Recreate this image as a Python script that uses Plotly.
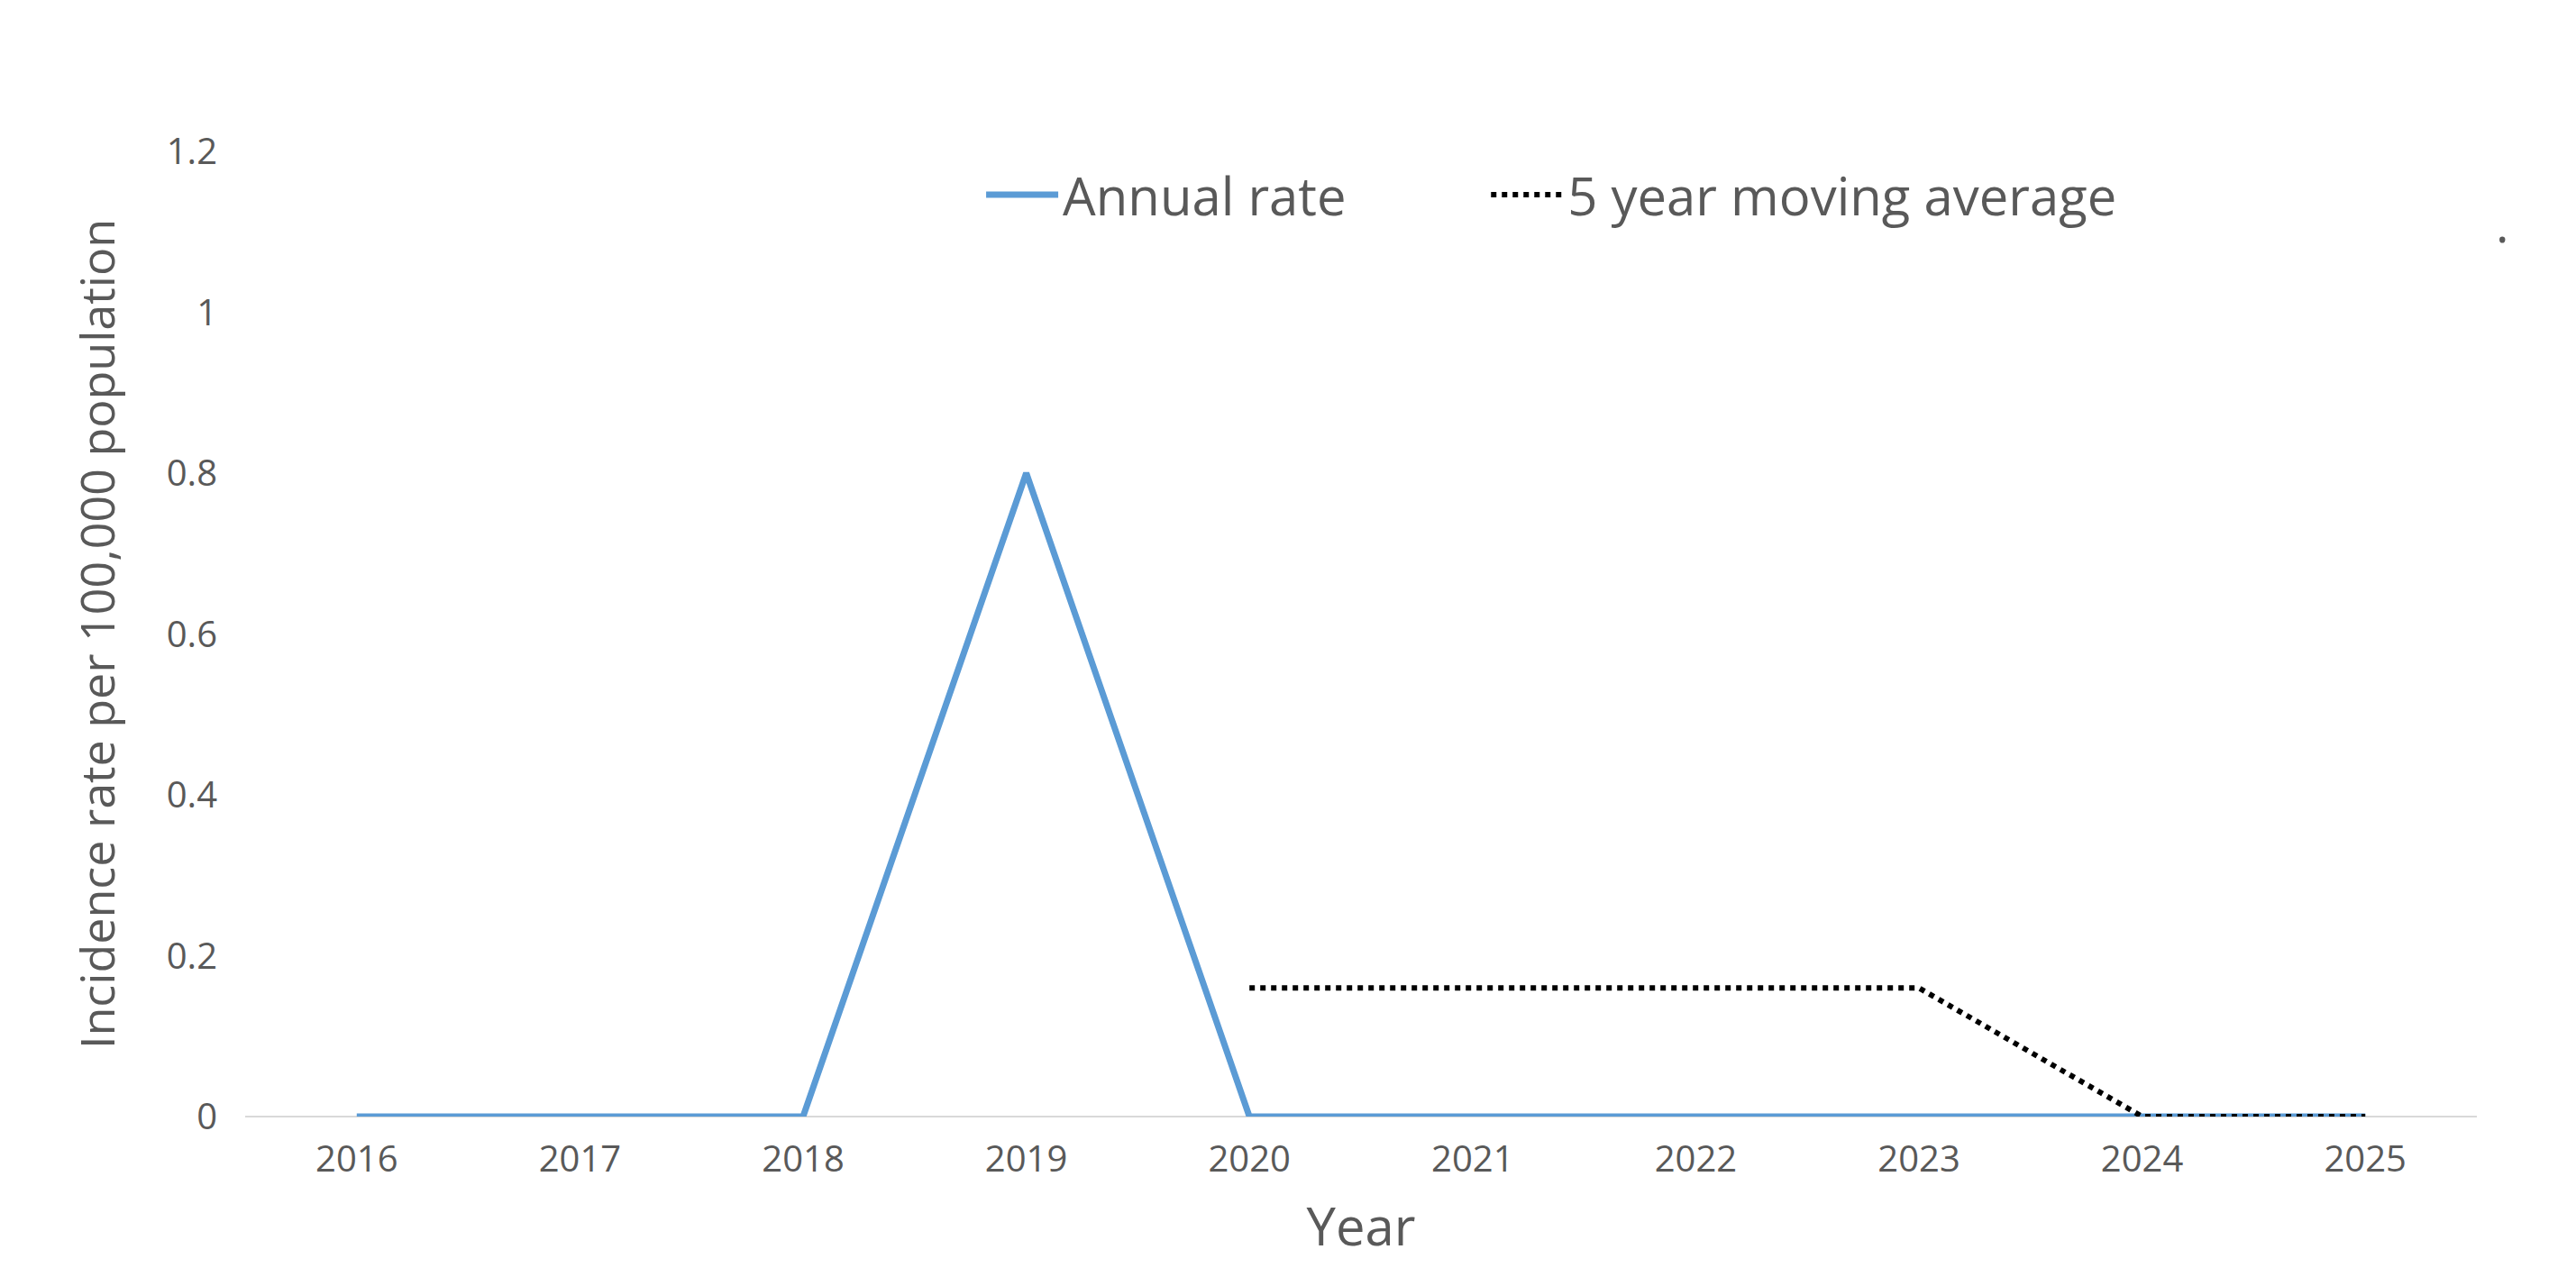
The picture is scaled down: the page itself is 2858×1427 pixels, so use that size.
import plotly.graph_objects as go

years = ["2016", "2017", "2018", "2019", "2020", "2021", "2022", "2023", "2024", "2025"]
annual_rate = [0, 0, 0, 0.8, 0, 0, 0, 0, 0, 0]
ma_years = ["2020", "2021", "2022", "2023", "2024", "2025"]
moving_avg = [0.16, 0.16, 0.16, 0.16, 0, 0]

grey = "#595959"
font = "Open Sans"

fig = go.Figure()
fig.add_trace(go.Scatter(x=years, y=annual_rate, mode="lines", name="Annual rate          ",
                         line=dict(color="#5B9BD5", width=7)))
fig.add_trace(go.Scatter(x=ma_years, y=moving_avg, mode="lines", name="5 year moving average",
                         line=dict(color="black", width=6, dash="dot")))

fig.add_annotation(text=".", x=(2777 - 264) / 2476, y=(1231 - 200) / 1071,
                   xref="paper", yref="paper", showarrow=False,
                   font=dict(size=55, color=grey, family=font))

fig.update_layout(
    width=2858, height=1427,
    margin=dict(l=264, r=118, t=160, b=196),
    plot_bgcolor="white", paper_bgcolor="white",
    font=dict(family=font, color=grey),
    legend=dict(orientation="h", x=0.33, y=0.955, yanchor="middle", xanchor="left",
                font=dict(size=58, color=grey), itemwidth=80, bgcolor="rgba(0,0,0,0)"),
    xaxis=dict(type="category", categoryorder="array", categoryarray=years,
               range=[-0.5, 9.5], showgrid=False, showline=False, zeroline=False,
               tickfont=dict(size=40, color=grey), ticks="", ticklabelstandoff=20,
               title=dict(text="Year", font=dict(size=58, color=grey), standoff=30)),
    yaxis=dict(range=[0, 1.2], showgrid=False, zeroline=True,
               zerolinecolor="#D9D9D9", zerolinewidth=2,
               tickvals=[0, 0.2, 0.4, 0.6, 0.8, 1, 1.2],
               ticktext=["0", "0.2", "0.4", "0.6", "0.8", "1", "1.2"],
               tickfont=dict(size=40, color=grey), ticks="", ticklabelstandoff=30,
               title=dict(text="Incidence rate per 100,000 population",
                          font=dict(size=52, color=grey), standoff=40)),
)
fig.write_html("out.html")
